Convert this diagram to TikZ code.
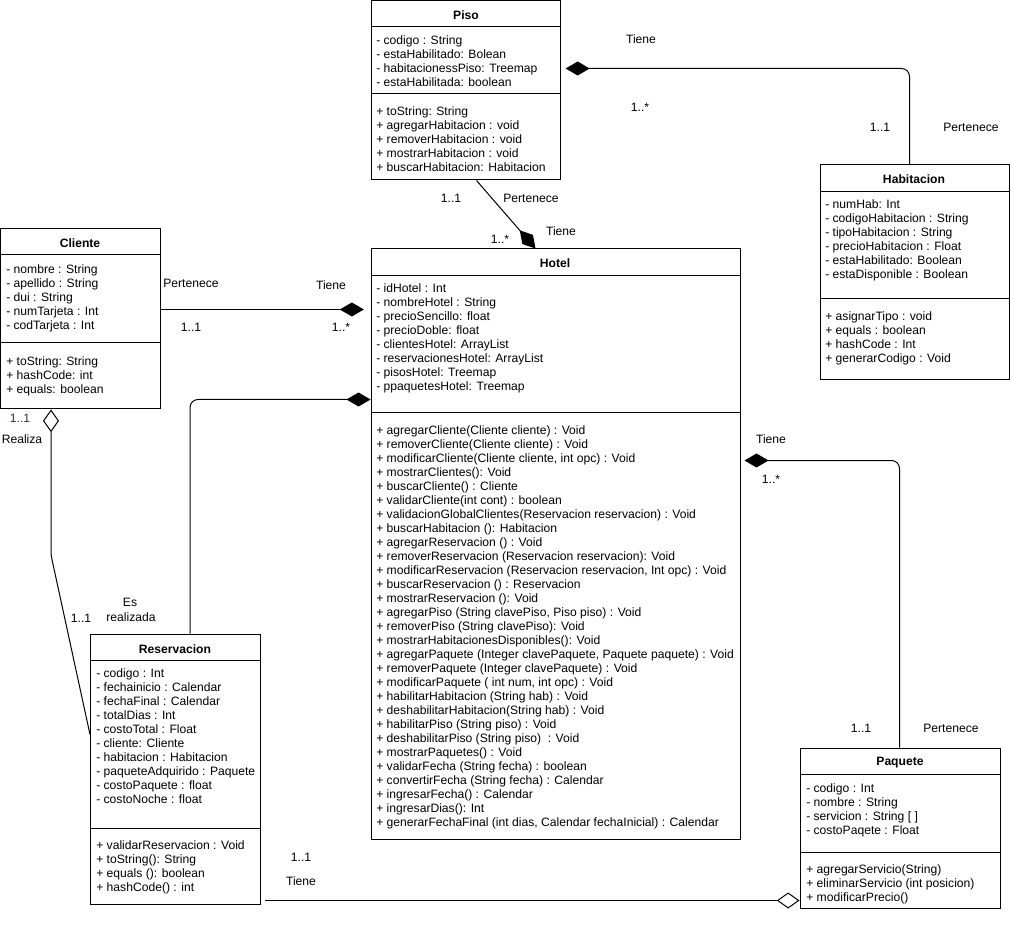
\documentclass[tikz,border=0pt]{standalone}
\usepackage{fontspec}
\setmainfont{Liberation Sans}
\usetikzlibrary{arrows.meta,calc,fit}
\definecolor{mult}{RGB}{80,30,90}
\newcommand\classlines[4]{\foreach \t [count=\i from 0] in {#4} \node[txt] at (#1,{#2+#3*\i}) {\t};}
\begin{document}
\begin{tikzpicture}[x=0.75pt,y=-0.75pt,
  every node/.style={font=\fontsize{9.1}{11}\selectfont},
  box/.style={draw, line width=0.75pt, inner sep=0pt, fit={#1}},
  sepline/.style={line width=0.75pt},
  txt/.style={anchor=west, inner sep=0pt, text height=8pt, text depth=1.6pt},
  ttl/.style={inner sep=0pt, font=\fontsize{9.1}{11}\selectfont\bfseries},
  lbl/.style={inner sep=0pt},
  assoc/.style={line width=0.75pt, rounded corners=6pt},
  comp/.style={assoc, -{Diamond[fill=black,length=18pt,width=10.5pt]}},
  aggr/.style={assoc, -{Diamond[open,fill=white,length=17pt,width=12pt]}}
]
\useasboundingbox (0,0) rectangle (1011,927);

% ---------- Piso ----------
\node[box={(371,1)(560.5,180)}] (piso) {};
\draw[sepline] (371,27) -- (560.5,27);
\draw[sepline] (371,94) -- (560.5,94);
\node[ttl] at (466,15) {Piso};
\classlines{376}{40}{14}{- codigo : String, - estaHabilitado: Bolean, - habitacionessPiso: Treemap, - estaHabilitada: boolean}
\classlines{376}{111}{14}{+ toString: String, + agregarHabitacion : void, + removerHabitacion : void, + mostrarHabitacion : void, + buscarHabitacion: Habitacion}

% ---------- Habitacion ----------
\node[box={(820,165)(1009,380)}] (hab) {};
\draw[sepline] (820,192) -- (1009,192);
\draw[sepline] (820,299) -- (1009,299);
\node[ttl] at (914,179) {Habitacion};
\classlines{825}{204}{14}{- numHab: Int, - codigoHabitacion : String, - tipoHabitacion : String, - precioHabitacion : Float, - estaHabilitado: Boolean, - estaDisponible : Boolean}
\classlines{825}{316}{14}{+ asignarTipo : void, + equals : boolean, + hashCode : Int, + generarCodigo : Void}

% ---------- Cliente ----------
\node[box={(0.5,229)(160,409)}] (cli) {};
\draw[sepline] (0.5,255) -- (160,255);
\draw[sepline] (0.5,343) -- (160,343);
\node[ttl] at (80,243) {Cliente};
\classlines{6}{269}{14}{- nombre : String, - apellido : String, - dui : String, - numTarjeta : Int, - codTarjeta : Int}
\classlines{6}{361}{14}{+ toString: String, + hashCode: int, + equals: boolean}

% ---------- Hotel ----------
\node[box={(371,249)(740,839)}] (hotel) {};
\draw[sepline] (371,276) -- (740,276);
\draw[sepline] (371,413) -- (740,413);
\node[ttl] at (555,263) {Hotel};
\classlines{376}{288.5}{14}{- idHotel : Int, - nombreHotel : String, - precioSencillo: float, - precioDoble: float, - clientesHotel: ArrayList, - reservacionesHotel: ArrayList, - pisosHotel: Treemap, - ppaquetesHotel: Treemap}
\classlines{376}{430.7}{14}{+ agregarCliente(Cliente cliente) : Void, + removerCliente(Cliente cliente) : Void, {+ modificarCliente(Cliente cliente, int opc) : Void}, + mostrarClientes(): Void, + buscarCliente() : Cliente, + validarCliente(int cont) : boolean, + validacionGlobalClientes(Reservacion reservacion) : Void, + buscarHabitacion (): Habitacion, + agregarReservacion () : Void, + removerReservacion (Reservacion reservacion): Void, {+ modificarReservacion (Reservacion reservacion, Int opc) : Void}, + buscarReservacion () : Reservacion, + mostrarReservacion (): Void, {+ agregarPiso (String clavePiso, Piso piso) : Void}, + removerPiso (String clavePiso): Void, + mostrarHabitacionesDisponibles(): Void, {+ agregarPaquete (Integer clavePaquete, Paquete paquete) : Void}, + removerPaquete (Integer clavePaquete) : Void, {+ modificarPaquete ( int num, int opc) : Void}, + habilitarHabitacion (String hab) : Void, + deshabilitarHabitacion(String hab) : Void, + habilitarPiso (String piso) : Void, + deshabilitarPiso (String piso)\ \ : Void, + mostrarPaquetes() : Void, + validarFecha (String fecha) : boolean, + convertirFecha (String fecha) : Calendar, + ingresarFecha() : Calendar, + ingresarDias(): Int, {+ generarFechaFinal (int dias, Calendar fechaInicial) : Calendar}}

% ---------- Reservacion ----------
\node[box={(90.5,634)(260.5,904)}] (res) {};
\draw[sepline] (90.5,660) -- (260.5,660);
\draw[sepline] (90.5,828) -- (260.5,828);
\node[ttl] at (175,649) {Reservacion};
\classlines{96}{673.5}{14}{- codigo : Int, - fechainicio : Calendar, - fechaFinal : Calendar, - totalDias : Int, - costoTotal : Float, - cliente: Cliente, - habitacion : Habitacion, - paqueteAdquirido : Paquete, - costoPaquete : float, - costoNoche : float}
\classlines{96}{845.7}{14}{+ validarReservacion : Void, + toString(): String, + equals (): boolean, + hashCode() : int}

% ---------- Paquete ----------
\node[box={(800,748)(1000.5,908)}] (paq) {};
\draw[sepline] (800,774) -- (1000.5,774);
\draw[sepline] (800,852) -- (1000.5,852);
\node[ttl] at (900,763) {Paquete};
\classlines{806}{788.3}{14}{- codigo : Int, - nombre : String, - servicion : String [ ], - costoPaqete : Float}
\classlines{806}{869.3}{14}{+ agregarServicio(String), + eliminarServicio (int posicion), + modificarPrecio()}

% ---------- Connectors ----------
% Piso - Habitacion
\draw[comp, shorten >=3.5pt] ($(hab.north west)+(90,0)$) |- ($(piso.north east)+(0,68)$);
\node[lbl] at (641,39) {Tiene};
\node[lbl] at (640,107) {1..*};
\node[lbl] at (880,127) {1..1};
\node[lbl] at (971,127) {Pertenece};

% Piso - Hotel
\draw[comp] ($(piso.south west)+(106,0)$) -- ($(hotel.north west)+(165,0)$);
\node[lbl] at (451,198) {1..1};
\node[lbl] at (531,198) {Pertenece};
\node[lbl] at (500,239) {1..*};
\node[lbl] at (561,231) {Tiene};

% Cliente - Hotel
\draw[comp, shorten >=5pt] ($(cli.north east)+(0,81)$) -- ($(hotel.north west)+(0,61)$);
\node[lbl] at (191,283) {Pertenece};
\node[lbl] at (331,285) {Tiene};
\node[lbl] at (191,327) {1..1};
\node[lbl] at (341,327) {1..*};

% Reservacion - Hotel
\draw[comp] ($(res.north west)+(100,0)$) |- ($(hotel.north west)+(0,151)$);
\node[lbl] at (130,602) {Es};
\node[lbl] at (131,617) {realizada};

% Reservacion - Cliente
\coordinate (bendcr) at (51,555);
\draw[aggr, rounded corners=3pt] ($(res.north west)+(0,101)$) -- (bendcr) -- ($(cli.south west)+(51,0)$);
\node[lbl, text=mult] at (20,418) {1..1};
\node[lbl] at (22,439) {Realiza};
\node[lbl] at (81,618) {1..1};

% Reservacion - Paquete
\draw[aggr] ($(res.south east)+(4,-4)$) -- ($(paq.south west)+(0,-8)$);
\node[lbl] at (301,857) {1..1};
\node[lbl] at (301,881) {Tiene};

% Hotel - Paquete
\draw[comp, shorten >=3pt] ($(paq.north west)+(100,0)$) |- ($(hotel.north east)+(0,212)$);
\node[lbl] at (771,439) {Tiene};
\node[lbl] at (771,479) {1..*};
\node[lbl] at (861,728) {1..1};
\node[lbl] at (951,728) {Pertenece};
\end{tikzpicture}
\end{document}
